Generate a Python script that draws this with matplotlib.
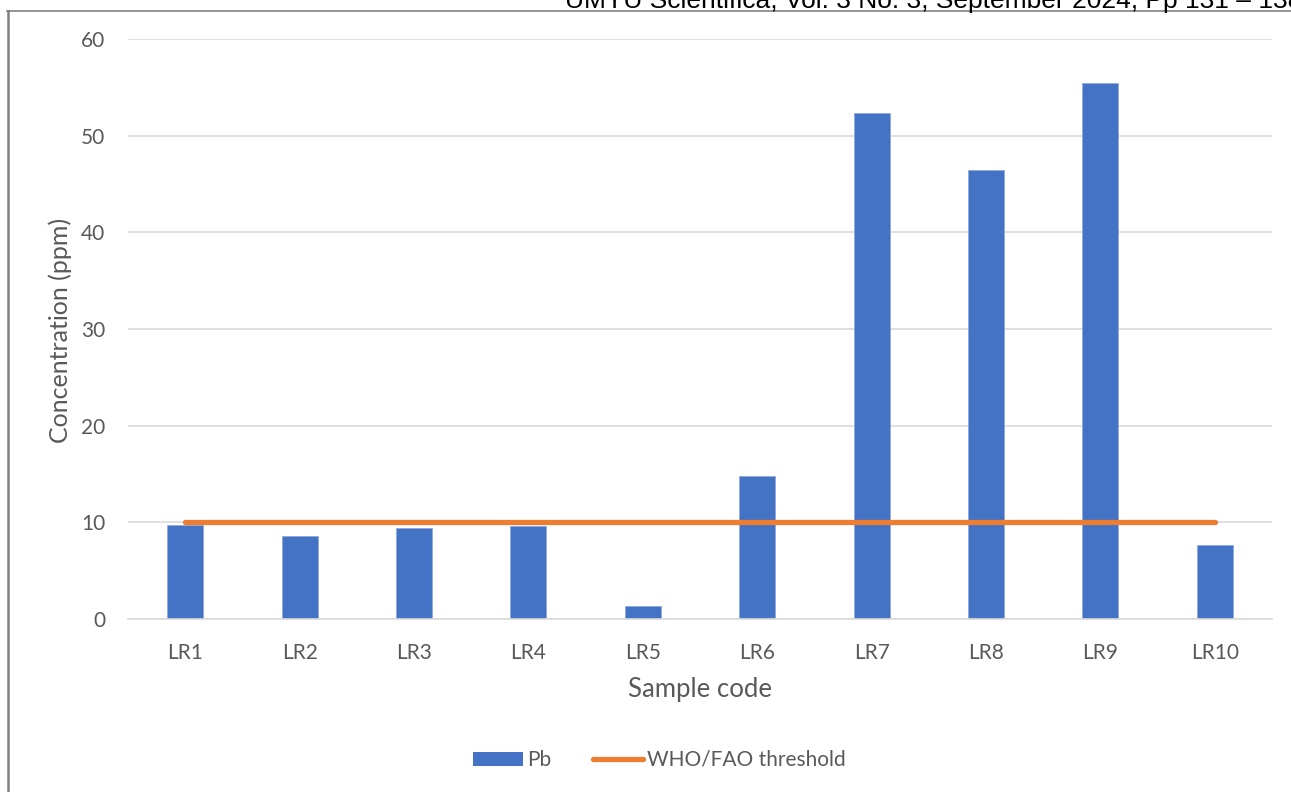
import matplotlib
matplotlib.use("Agg")
import matplotlib.pyplot as plt
from matplotlib.lines import Line2D
from matplotlib.patches import Patch
import numpy as np

categories = ["LR1", "LR2", "LR3", "LR4", "LR5", "LR6", "LR7", "LR8", "LR9", "LR10"]
pb_values = [9.7, 8.6, 9.4, 9.6, 1.3, 14.8, 52.3, 46.4, 55.5, 7.7]
threshold = [10] * len(categories)
y_ticks = [0, 10, 20, 30, 40, 50, 60]

W, H = 1291, 792
fig = plt.figure(figsize=(W / 100, H / 100), dpi=100)
plt.rcParams['font.family'] = ['Lato', 'DejaVu Sans']

ax = fig.add_axes([128 / W, 1 - 619 / H, (1272 - 128) / W, (619 - 39) / H])
x = np.arange(len(categories))
ax.bar(x, pb_values, width=0.315, color="#4472C4", edgecolor="#8FAADC", linewidth=0.6, zorder=2)
ax.plot(x, threshold, color="#ED7D31", linewidth=3.8, solid_capstyle="round", zorder=3)

ax.set_xlim(-0.5, len(categories) - 0.5)
ax.set_ylim(0, 60)
ax.set_yticks(y_ticks)
ax.set_xticks(x)
ax.set_xticklabels(categories)
ax.tick_params(axis="both", length=0, labelsize=15, labelcolor="#595959")
ax.tick_params(axis="x", pad=17)
ax.tick_params(axis="y", pad=16.5)
ax.grid(axis="y", color="#D9D9D9", linewidth=1.2, zorder=0)
ax.set_axisbelow(True)
for s in ["top", "right", "left"]:
    ax.spines[s].set_visible(False)
ax.spines["bottom"].set_color("#D9D9D9")
ax.spines["bottom"].set_linewidth(1.2)

ax.set_xlabel("Sample code", fontsize=18.5, color="#595959", va="center", ha="center")
ax.xaxis.set_label_coords((700 - 128) / 1144, (619 - 689) / 580)
ax.set_ylabel("Concentration (ppm)", fontsize=18, color="#595959", va="center", ha="center")
ax.yaxis.set_label_coords((60 - 128) / 1144, (619 - 330) / 580)

handles = [Patch(facecolor="#4472C4", edgecolor="none", label="Pb"),
           Line2D([0], [0], color="#ED7D31", linewidth=3.8, solid_capstyle="round", label="WHO/FAO threshold")]
fig.legend(handles=handles, loc="center", bbox_to_anchor=(659 / W, 1 - 760 / H), ncol=2, frameon=False,
           fontsize=15, labelcolor="#595959", handlelength=2.4, handleheight=0.65, columnspacing=2.0, handletextpad=0.2)

# page header / frame
fig.add_artist(Line2D([7 / W, 1.0], [1 - 10.5 / H, 1 - 10.5 / H], color="#808080", linewidth=1.2))
fig.add_artist(Line2D([7.5 / W, 7.5 / W], [0, 1 - 10.5 / H], color="#808080", linewidth=1.8))
fig.text(565 / W, 1 - 8 / H, "UMYU Scientifica, Vol. 3 No. 3, September 2024, Pp 131 \u2013 138",
         fontsize=19, color="black", va="baseline", ha="left", family=["Liberation Sans", "DejaVu Sans"])

fig.savefig("out.png", dpi=100)
